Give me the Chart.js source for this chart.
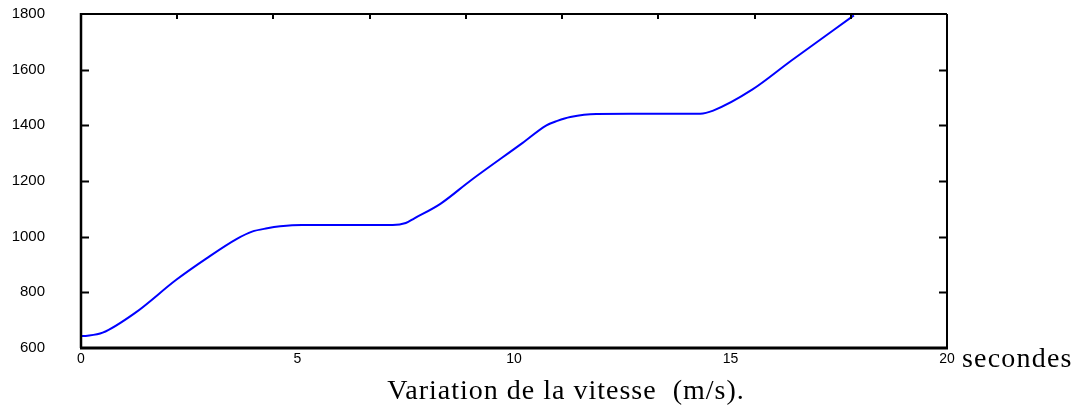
<!DOCTYPE html>
<html>
<head>
<meta charset="utf-8">
<script src="https://cdn.jsdelivr.net/npm/chart.js@4.4.1/dist/chart.umd.min.js"></script>
<style>
  html, body { margin: 0; padding: 0; background: #fff; }
  #wrap { width: 1083px; height: 418px; position: relative; }
</style>
</head>
<body>
<div id="wrap"><canvas id="c" width="1083" height="418"></canvas></div>
<script>
// Temps (s) et vitesse mesurée
const temps = [0, 0.15, 0.5, 1.25, 2.2, 2.9, 3.6, 3.95, 4.3, 4.6, 5.1, 7.2, 7.5, 7.7, 8.3, 9.0, 10.2, 10.75, 11.0, 11.3, 11.9, 14.3, 14.6, 15.5, 16.4, 17.85];
const vitesse = [643, 644, 655, 726, 845, 922, 992, 1018, 1030, 1037, 1042, 1042, 1049, 1066, 1118, 1202, 1337, 1400, 1416, 1430, 1441, 1442, 1453, 1528, 1632, 1795];

const xTickLabels = [0, 5, 10, 15, 20];
const yTickLabels = [600, 800, 1000, 1200, 1400, 1600, 1800];
const topTickCount = 9;

const titreAxe = 'Variation de la vitesse  (m/s).';
const uniteTemps = 'secondes';

const points = temps.map((t, i) => ({ x: t, y: vitesse[i] }));

// Cadre, graduations intérieures et légendes textuelles
const cadre = {
  id: 'cadre',
  afterDraw(chart) {
    const { ctx, chartArea: a, scales } = chart;
    const xs = scales.x, ys = scales.y;
    ctx.save();
    ctx.strokeStyle = '#000';
    // bords
    ctx.lineWidth = 2;
    ctx.beginPath();
    ctx.moveTo(a.left, a.top); ctx.lineTo(a.right, a.top);
    ctx.moveTo(a.right, a.top); ctx.lineTo(a.right, a.bottom);
    ctx.stroke();
    ctx.lineWidth = 2.5;
    ctx.beginPath();
    ctx.moveTo(a.left, a.top - 1); ctx.lineTo(a.left, a.bottom);
    ctx.stroke();
    ctx.lineWidth = 3;
    ctx.beginPath();
    ctx.moveTo(a.left - 1, a.bottom); ctx.lineTo(a.right + 1, a.bottom);
    ctx.stroke();
    // graduations verticales
    ctx.lineWidth = 2;
    ctx.beginPath();
    yTickLabels.forEach(v => {
      const y = Math.round(ys.getPixelForValue(v)) + 0.5;
      if (v === yTickLabels[0] || v === yTickLabels[yTickLabels.length - 1]) return;
      ctx.moveTo(a.left, y); ctx.lineTo(a.left + 8, y);
      ctx.moveTo(a.right, y); ctx.lineTo(a.right - 8, y);
    });
    ctx.stroke();
    // graduations du haut
    ctx.beginPath();
    for (let k = 1; k < topTickCount; k++) {
      const x = Math.round(xs.getPixelForValue(k * xs.max / topTickCount));
      ctx.moveTo(x, a.top); ctx.lineTo(x, a.top + 5);
    }
    ctx.stroke();
    // textes
    ctx.fillStyle = '#000';
    ctx.textBaseline = 'alphabetic';
    ctx.font = '28px "Liberation Serif", serif';
    ctx.letterSpacing = '1.2px';
    ctx.textAlign = 'left';
    ctx.fillText(uniteTemps, 962, 367);
    ctx.textAlign = 'center';
    ctx.letterSpacing = '1px';
    ctx.font = '28px "Liberation Serif", serif';
    ctx.fillText(titreAxe, 566, 399);
    ctx.restore();
  }
};

new Chart(document.getElementById('c'), {
  type: 'line',
  data: {
    datasets: [{
      data: points,
      borderColor: '#0000ff',
      borderWidth: 2,
      pointRadius: 0,
      fill: false,
      cubicInterpolationMode: 'monotone'
    }]
  },
  options: {
    responsive: false,
    animation: false,
    devicePixelRatio: 1,
    layout: { padding: { left: 0, right: 136, top: 14, bottom: 0 } },
    plugins: { legend: { display: false }, tooltip: { enabled: false }, title: { display: false } },
    scales: {
      x: {
        type: 'linear',
        min: 0, max: 20,
        afterBuildTicks(scale) { scale.ticks = xTickLabels.map(v => ({ value: v })); },
        afterFit(scale) { scale.height = 70; },
        grid: { display: false, drawTicks: false },
        border: { display: false },
        ticks: {
          padding: 3,
          color: '#000',
          font: { family: '"Liberation Sans", Arial, sans-serif', size: 14 },
          maxRotation: 0,
          autoSkip: false,
          callback: v => String(v)
        }
      },
      y: {
        type: 'linear',
        min: 600, max: 1800,
        afterBuildTicks(scale) { scale.ticks = yTickLabels.map(v => ({ value: v })); },
        afterFit(scale) { scale.width = 81; scale.paddingTop = 8; scale.paddingBottom = 8; },
        grid: { display: false, drawTicks: false },
        border: { display: false },
        ticks: {
          padding: 36,
          color: '#000',
          font: { family: '"Liberation Sans", Arial, sans-serif', size: 15 },
          autoSkip: false,
          callback: v => String(v)
        }
      }
    }
  },
  plugins: [cadre]
});
</script>
</body>
</html>
